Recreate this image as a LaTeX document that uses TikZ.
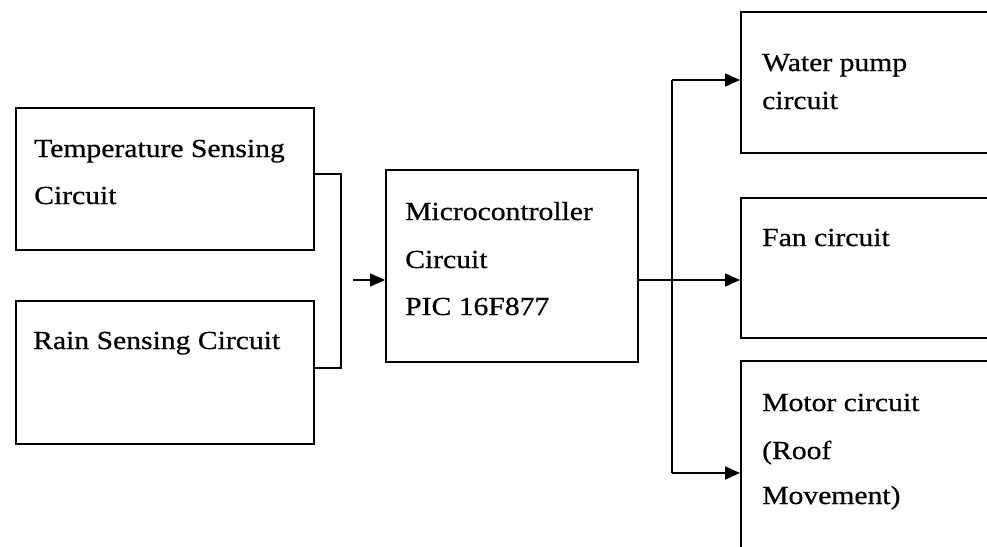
\documentclass[tikz,border=0pt]{standalone}
\usepackage{fontspec}
\setmainfont{Liberation Serif}[FakeStretch=1.14,FakeBold=0.6]
\usetikzlibrary{arrows.meta}
\begin{document}
\begin{tikzpicture}[x=1pt,y=-1pt,
  blk/.style={draw=black,line width=1.8pt,rectangle,inner sep=0pt,anchor=north west},
  lbl/.style={anchor=base west,inner sep=0pt,font=\fontsize{26}{30}\selectfont},
  wire/.style={draw=black,line width=1.8pt},
  arr/.style={wire,-{Triangle[length=15pt,width=13pt]}}]
\clip (0,0) rectangle (987,546);
\fill[white] (0,0) rectangle (987,546);
% boxes
\node[blk,minimum width=298pt,minimum height=142pt] (temp) at (15,107) {};
\node[blk,minimum width=298pt,minimum height=143pt] (rain) at (15,300) {};
\node[blk,minimum width=252pt,minimum height=192pt] (micro) at (385,169) {};
\node[blk,minimum width=260pt,minimum height=141pt] (pump) at (740,11) {};
\node[blk,minimum width=260pt,minimum height=140pt] (fan) at (740,197) {};
\node[blk,minimum width=260pt,minimum height=200pt] (motor) at (740,360) {};
% texts
\node[lbl] (t1) at (34,157) {Temperature Sensing};
\node[lbl] (t2) at (34,204) {Circuit};
\node[lbl] (r1) at (33,349) {Rain Sensing Circuit};
\node[lbl] (m1) at (405,220) {Microcontroller};
\node[lbl] (m2) at (405,268) {Circuit};
\node[lbl] (m3) at (405,315) {PIC 16F877};
\node[lbl] (p1) at (762,71) {Water pump};
\node[lbl] (p2) at (762,109) {circuit};
\node[lbl] (f1) at (762,246) {Fan circuit};
\node[lbl] (o1) at (762,411) {Motor circuit};
\node[lbl] (o2) at (762,459) {(Roof};
\node[lbl] (o3) at (762,504) {Movement)};
% input bracket
\coordinate (jt) at (341,174);
\coordinate (jb) at (341,368);
\draw[wire] (temp.east |- jt) -- (jt) -- (jb) -- (rain.east |- jb);
\coordinate (ain) at (353,280);
\draw[arr] (ain) -- (micro.west |- ain);
% output bus
\coordinate (bm) at (672,280);
\coordinate (bt) at (672,80);
\coordinate (bb) at (672,473);
\draw[wire] (micro.east |- bm) -- (bm);
\draw[wire] (bt) -- (bb);
\draw[arr] (bt) -- (pump.west |- bt);
\draw[arr] (bm) -- (fan.west |- bm);
\draw[arr] (bb) -- (motor.west |- bb);
\end{tikzpicture}
\end{document}
